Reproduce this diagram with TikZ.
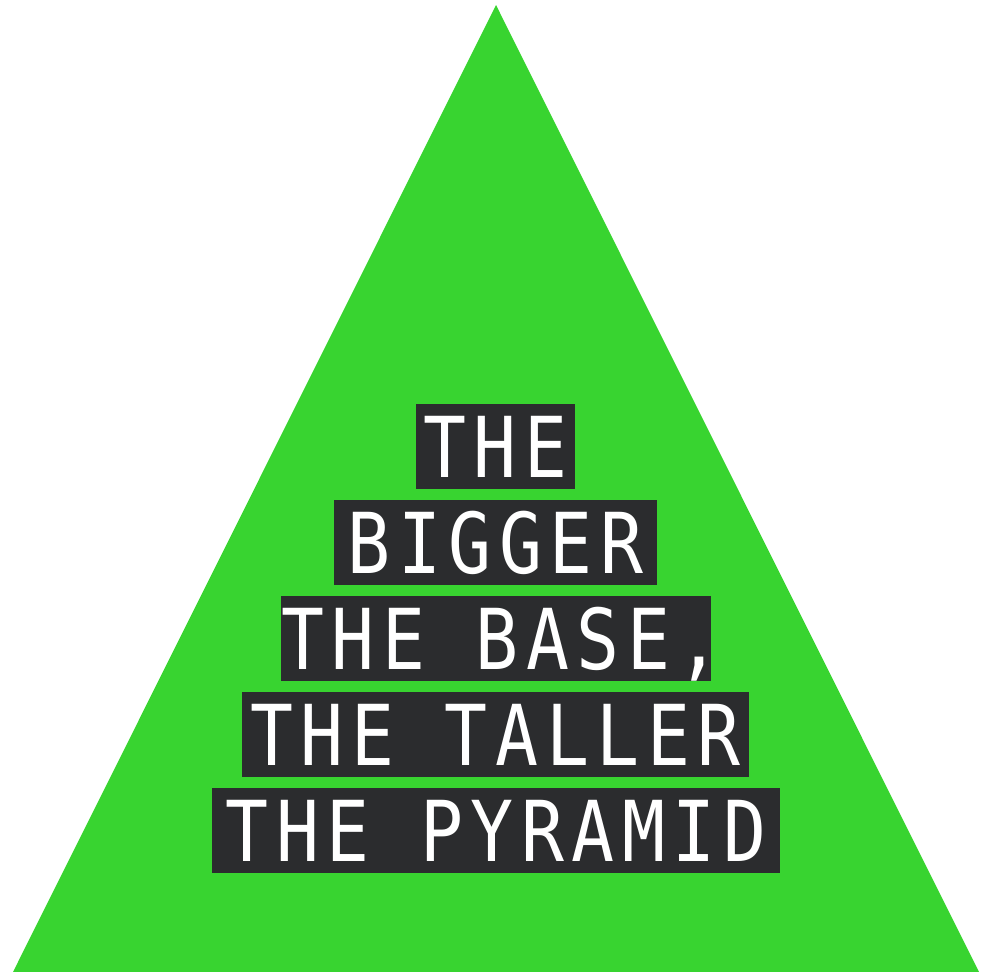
\documentclass[tikz,border=0pt]{standalone}
\usepackage{fontspec}
\newfontfamily\pyrmono[FakeStretch=0.85,LetterSpace=9]{DejaVu Sans Mono}
\definecolor{pgreen}{HTML}{38D430}
\definecolor{boxdark}{HTML}{2B2C2E}
\begin{document}
\begin{tikzpicture}[x=1pt,y=-1pt,
  lbox/.style={fill=boxdark, text=white, inner sep=0pt,
    font=\pyrmono\fontsize{84}{84}\selectfont,
    text height=61.2pt, text depth=0pt, minimum height=85pt, anchor=center}]
\useasboundingbox (0,0) rectangle (986,972);
\fill[pgreen] (496,5) -- (979,972) -- (13,972) -- cycle;
\node[lbox, minimum width=159pt] (l1) at (495.5,446.5) {\makebox[0pt]{THE}};
\node[lbox, minimum width=323pt] (l2) at (495.5,542.5) {\makebox[0pt]{BIGGER}};
\node[lbox, minimum width=430pt] (l3) at (496,638.5) {\makebox[0pt]{\kern10pt THE BASE,}};
\node[lbox, minimum width=507pt] (l4) at (495.5,734.5) {\makebox[0pt]{THE TALLER}};
\node[lbox, minimum width=568pt] (l5) at (496,830.5) {\makebox[0pt]{THE PYRAMID}};
\end{tikzpicture}
\end{document}
